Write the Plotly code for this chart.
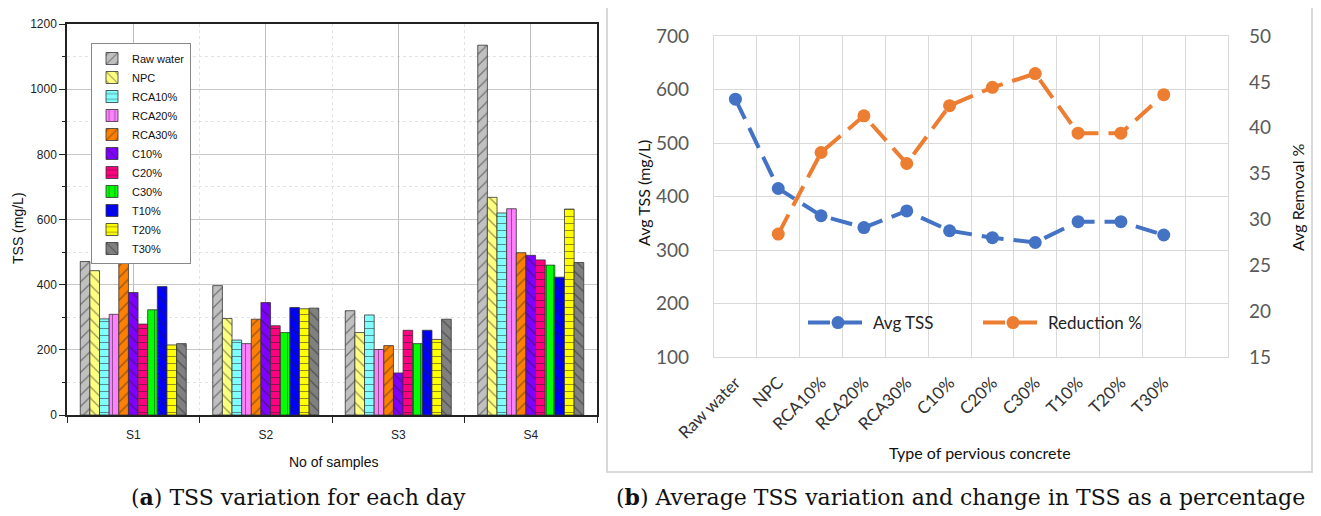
import plotly.graph_objects as go

# the page body has an 8px margin, so the figure is offset accordingly
OFF = 8
W, H = 1321 - OFF, 516 - OFF

# ---------------- Panel (a) data ----------------
samples = ["S1", "S2", "S3", "S4"]
series_names = ["Raw water", "NPC", "RCA10%", "RCA20%", "RCA30%", "C10%",
                "C20%", "C30%", "T10%", "T20%", "T30%"]
raw_water = [471, 397, 320, 1135]
npc = [443, 296, 253, 668]
rca10 = [295, 230, 307, 620]
rca20 = [309, 219, 201, 633]
rca30 = [478, 294, 213, 498]
c10 = [376, 345, 129, 490]
c20 = [279, 274, 260, 476]
c30 = [323, 253, 219, 460]
t10 = [394, 330, 260, 423]
t20 = [215, 326, 232, 632]
t30 = [219, 328, 294, 468]

# ---------------- Panel (b) data ----------------
concrete_types = ["Raw water", "NPC", "RCA10%", "RCA20%", "RCA30%", "C10%",
                  "C20%", "C30%", "T10%", "T20%", "T30%"]
avg_tss = [582, 415, 364, 342, 373, 336, 323, 314, 353, 353, 328]
reduction_pct = [None, 28.4, 37.3, 41.3, 36.1, 42.4, 44.4, 45.9, 39.4, 39.4, 43.6]

# ---------------- styles ----------------
bar_values = [raw_water, npc, rca10, rca20, rca30, c10, c20, c30, t10, t20, t30]
bar_colors = ["#c0c0c0", "#ffff80", "#80ffff", "#ff80ff", "#ff8000", "#8000ff",
              "#ff0080", "#00ff00", "#0000ff", "#ffff00", "#808080"]
bar_shapes = ["/", "\\", "-", "|", "/", "\\", "-", "|", "\\", "-", "\\"]

x_pos = list(range(1, len(samples) + 1))
boundaries = [p - 0.5 for p in x_pos] + [x_pos[-1] + 0.5]

def px_x(v):
    return (v - OFF) / W

def px_y(v):
    return 1 - (v - OFF) / H

fig = go.Figure()

for name, vals, col, shp in zip(series_names, bar_values, bar_colors, bar_shapes):
    fig.add_trace(go.Bar(
        x=x_pos, y=vals, name=name, xaxis="x", yaxis="y", legend="legend",
        marker=dict(color=col, line=dict(color="#333333", width=0.8),
                    pattern=dict(shape=shp, fillmode="overlay", bgcolor=col,
                                 fgcolor="#222222", size=7 if shp in ("-", "|") else 8,
                                 solidity=0.15)),
    ))

BLUE = "#4472C4"
ORANGE = "#ED7D31"
fig.add_trace(go.Scatter(
    x=concrete_types, y=avg_tss, name="Avg TSS", xaxis="x2", yaxis="y2",
    legend="legend2", mode="lines+markers",
    line=dict(color=BLUE, width=4, dash="22px,10px"),
    marker=dict(color=BLUE, size=13),
))
fig.add_trace(go.Scatter(
    x=concrete_types, y=reduction_pct, name="Reduction %", xaxis="x2", yaxis="y3",
    legend="legend2", mode="lines+markers",
    line=dict(color=ORANGE, width=4, dash="22px,10px"),
    marker=dict(color=ORANGE, size=13),
))

left_font = "Liberation Sans, Arial, sans-serif"
right_font = "Lato, Open Sans, sans-serif"

fig.update_layout(
    width=W, height=H,
    margin=dict(l=0, r=0, t=0, b=0, autoexpand=False),
    paper_bgcolor="white", plot_bgcolor="white",
    barmode="group", bargap=0.2, bargroupgap=0,
    showlegend=True,
    xaxis=dict(
        domain=[px_x(67), px_x(597)], anchor="y", automargin=False,
        range=[0.5, len(samples) + 0.5],
        tickmode="array", tickvals=x_pos, ticktext=samples,
        ticks="", showgrid=True, gridcolor="#bdbdbd", gridwidth=1,
        showline=True, linecolor="#222222", linewidth=1.5, mirror=True,
        zeroline=False, ticklabelstandoff=8,
        tickfont=dict(family=left_font, size=12, color="#222222"),
        minor=dict(tickmode="array", tickvals=boundaries, ticks="outside",
                   ticklen=6, tickcolor="#222222", showgrid=True,
                   gridcolor="#e3e3e3", griddash="dot"),
    ),
    yaxis=dict(
        domain=[px_y(415), px_y(24)], anchor="x", automargin=False,
        range=[0, 1200], dtick=200,
        ticks="outside", ticklen=6, tickcolor="#222222",
        showgrid=True, gridcolor="#c8c8c8", gridwidth=1,
        showline=True, linecolor="#222222", linewidth=1.5, mirror=True,
        zeroline=False,
        tickfont=dict(family=left_font, size=12, color="#222222"),
        minor=dict(dtick=100, ticks="outside", ticklen=3, tickcolor="#222222",
                   showgrid=True, gridcolor="#e3e3e3", griddash="dot"),
    ),
    xaxis2=dict(
        domain=[px_x(714), px_x(1228)], anchor="y2", automargin=False,
        type="category", categoryorder="array",
        categoryarray=concrete_types + [" "],
        range=[-0.5, len(concrete_types) + 0.5],
        tickson="boundaries", ticks="",
        showgrid=True, gridcolor="#d9d9d9", gridwidth=1.3,
        showline=True, linecolor="#d9d9d9", linewidth=1.3, mirror=True,
        tickangle=-45, ticklabelstandoff=8,
        tickfont=dict(family=right_font, size=17, color="#333333"),
    ),
    yaxis2=dict(
        domain=[px_y(357), px_y(36)], anchor="x2", automargin=False,
        range=[100, 700], dtick=100, ticks="",
        showgrid=True, gridcolor="#d9d9d9", gridwidth=1.3,
        showline=True, linecolor="#d9d9d9", linewidth=1.3, mirror=True,
        zeroline=False, ticklabelstandoff=20,
        tickfont=dict(family=right_font, size=19, color="#595959"),
    ),
    yaxis3=dict(
        overlaying="y2", side="right", anchor="x2", automargin=False,
        range=[15, 50], dtick=5, ticks="",
        showgrid=False, zeroline=False, ticklabelstandoff=20,
        tickfont=dict(family=right_font, size=19, color="#595959"),
    ),
    legend=dict(
        x=px_x(91), y=px_y(43), xanchor="left", yanchor="top",
        bgcolor="white", bordercolor="#888888", borderwidth=1,
        font=dict(family=left_font, size=11, color="#111111"),
        tracegroupgap=0, itemwidth=30,
    ),
    legend2=dict(
        x=px_x(803), y=px_y(323), xanchor="left", yanchor="middle",
        orientation="h", bgcolor="rgba(0,0,0,0)",
        font=dict(family=right_font, size=17, color="#222222"),
        itemwidth=60, entrywidth=100,
    ),
)

annotations = [
    dict(text="TSS (mg/L)", x=px_x(18), y=px_y(228), textangle=-90,
         font=dict(family=left_font, size=14, color="#111111")),
    dict(text="No of samples", x=px_x(333), y=px_y(462),
         font=dict(family=left_font, size=14, color="#111111")),
    dict(text="Avg TSS (mg/L)", x=px_x(643), y=px_y(193), textangle=-90,
         font=dict(family=right_font, size=16, color="#111111")),
    dict(text="Avg Removal %", x=px_x(1297), y=px_y(197), textangle=-90,
         font=dict(family=right_font, size=16, color="#111111")),
    dict(text="Type of pervious concrete", x=px_x(980), y=px_y(452),
         font=dict(family=right_font, size=16, color="#111111")),
    dict(text="(<b>a</b>) TSS variation for each day", x=px_x(298), y=px_y(497),
         font=dict(family="DejaVu Serif, serif", size=22, color="#111111")),
    dict(text="(<b>b</b>) Average TSS variation and change in TSS as a percentage",
         x=px_x(960), y=px_y(497),
         font=dict(family="DejaVu Serif, serif", size=22, color="#111111")),
]
for a in annotations:
    a.update(xref="paper", yref="paper", showarrow=False,
             xanchor="center", yanchor="middle")
fig.update_layout(annotations=annotations)

fig.add_shape(type="rect", xref="paper", yref="paper",
              x0=px_x(607), x1=px_x(1312), y0=px_y(472), y1=px_y(5),
              line=dict(color="#d9d9d9", width=2), fillcolor="rgba(0,0,0,0)")

fig.write_html("out.html")
